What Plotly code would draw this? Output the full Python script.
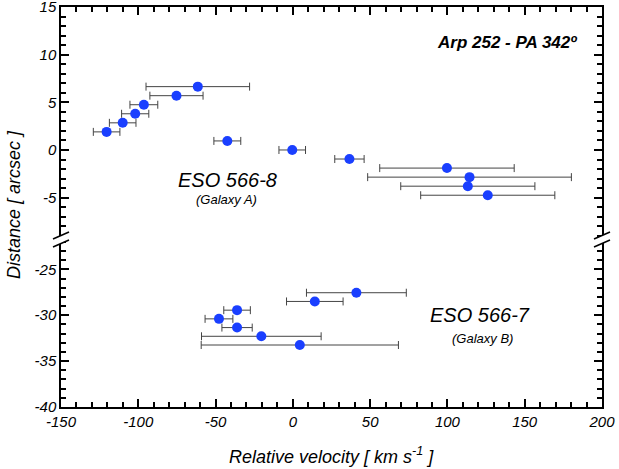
import plotly.graph_objects as go

# Galaxy A (ESO 566-8) - upper panel
vel_a = [-120.5, -110.1, -102.0, -96.4, -75.3, -61.5, -42.4, -0.4, 36.6, 99.7, 114.3, 113.2, 126.1]
dist_a = [1.9, 2.85, 3.8, 4.75, 5.7, 6.65, 0.95, 0.0, -0.95, -1.9, -2.85, -3.8, -4.75]
err_a = [8.6, 8.6, 8.8, 9.0, 17.2, 33.5, 8.7, 8.6, 9.5, 43.5, 65.9, 43.4, 43.4]

# Galaxy B (ESO 566-7) - lower panel
vel_b = [41.1, 14.2, -36.1, -47.8, -36.1, -20.4, 4.5]
dist_b = [-27.55, -28.5, -29.45, -30.4, -31.35, -32.3, -33.25]
err_b = [32.3, 18.3, 8.6, 9.0, 9.8, 38.7, 63.8]

x_ticks = [-150, -100, -50, 0, 50, 100, 150, 200]
y_top_ticks = [15, 10, 5, 0, -5]
y_bot_ticks = [-25, -30, -35, -40]

# plot area in pixels (for placing the break marks)
L, R, T, B = 61, 602, 7, 407
BREAK = 240
split = (B - BREAK) / (B - T)

marker_color = '#1a3fff'
err_color = '#444444'
tick_font = dict(family='Liberation Sans, Arial', size=15, color='black', style='italic')


def px(x, y):
    return (x - L) / (R - L), (B - y) / (B - T)


fig = go.Figure()

fig.add_trace(go.Scatter(x=vel_a, y=dist_a, mode='markers', xaxis='x2', yaxis='y2',
                         marker=dict(size=10, color=marker_color),
                         error_x=dict(type='data', array=err_a, color=err_color, thickness=1, width=4),
                         error_y=dict(type='data', value=0.45, color='#222222', thickness=1.2, width=4)))

fig.add_trace(go.Scatter(x=vel_b, y=dist_b, mode='markers', xaxis='x', yaxis='y',
                         marker=dict(size=10, color=marker_color),
                         error_x=dict(type='data', array=err_b, color=err_color, thickness=1, width=4),
                         error_y=dict(type='data', value=0.45, color='#222222', thickness=1.2, width=4)))

axis_common = dict(showline=True, linecolor='black', linewidth=1.5, ticks='inside', ticklen=8,
                   tickwidth=2, tickcolor='black', showgrid=False, zeroline=False, tickfont=tick_font,
                   ticklabeloverflow='allow')
minor_ticks = dict(tickmode='linear', tick0=0, ticks='inside', ticklen=5, tickcolor='black',
                   tickwidth=1.5, showgrid=False)

fig.update_layout(
    xaxis=dict(range=[-150.01, 200.01], anchor='y', tickvals=x_ticks, ticktext=[str(v) for v in x_ticks],
               minor=dict(dtick=10, **minor_ticks), **axis_common),
    xaxis2=dict(range=[-150.01, 200.01], anchor='y2', side='top', showticklabels=False, tickvals=x_ticks,
                minor=dict(dtick=10, **minor_ticks), **axis_common),
    yaxis=dict(domain=[0, split], range=[-40.01, -21.8], anchor='x', mirror='ticks',
               tickvals=y_bot_ticks, ticktext=[str(v) for v in y_bot_ticks],
               minor=dict(dtick=1, **minor_ticks), **axis_common),
    yaxis2=dict(domain=[split, 1], range=[-9.45, 15.01], anchor='x2', mirror='ticks',
                tickvals=y_top_ticks, ticktext=[str(v) for v in y_top_ticks],
                minor=dict(dtick=1, **minor_ticks), **axis_common),
    width=619, height=469,
    margin=dict(l=L, r=619 - R, t=T, b=469 - B, autoexpand=False),
    plot_bgcolor='white', paper_bgcolor='white',
    showlegend=False,
)

# axis break marks on both sides
shapes = []
for cx in (L, R):
    x0, y0 = px(cx - 8, BREAK - 1)
    x1, y1 = px(cx + 8, BREAK - 8)
    x2, y2 = px(cx - 8, BREAK + 7)
    x3, y3 = px(cx + 8, BREAK)
    shapes.append(dict(type='path', xref='paper', yref='paper',
                       path=f'M {x0},{y0} L {x1},{y1} L {x3},{y3} L {x2},{y2} Z',
                       fillcolor='white', line=dict(width=0), layer='above'))
    shapes.append(dict(type='line', xref='paper', yref='paper', x0=x0, y0=y0, x1=x1, y1=y1,
                       line=dict(color='black', width=1.5), layer='above'))
    shapes.append(dict(type='line', xref='paper', yref='paper', x0=x2, y0=y2, x1=x3, y1=y3,
                       line=dict(color='black', width=1.5), layer='above'))
fig.update_layout(shapes=shapes)

font = 'Liberation Sans, Arial'
notes = [
    ('Arp 252 - PA 342º', 579, 43, 'right', dict(family=font, size=17, color='black', style='italic', weight='bold')),
    ('ESO 566-8', 227, 180, 'center', dict(family=font, size=20, color='black', style='italic')),
    ('(Galaxy A)', 226, 199, 'center', dict(family=font, size=13, color='black', style='italic')),
    ('ESO 566-7', 480, 315, 'center', dict(family=font, size=20, color='black', style='italic')),
    ('(Galaxy B)', 482, 338, 'center', dict(family=font, size=13, color='black', style='italic')),
    ('Relative velocity [ km s<sup>-1</sup> ]', 331, 455, 'center', dict(family=font, size=18, color='black', style='italic')),
]
for text, x, y, anchor, f in notes:
    ax, ay = px(x, y)
    fig.add_annotation(text=text, x=ax, y=ay, xref='paper', yref='paper', xanchor=anchor,
                       yanchor='middle', showarrow=False, font=f)

ax, ay = px(14, 205)
fig.add_annotation(text='Distance [ arcsec ]', x=ax, y=ay, xref='paper', yref='paper', textangle=-90,
                   xanchor='center', yanchor='middle', showarrow=False,
                   font=dict(family=font, size=18, color='black', style='italic'))

# page body has a default margin; drop it so the figure sits at the window's corner
fig.write_html("out.html", config={'displayModeBar': False},
               post_script="document.body.style.margin='0px';")
